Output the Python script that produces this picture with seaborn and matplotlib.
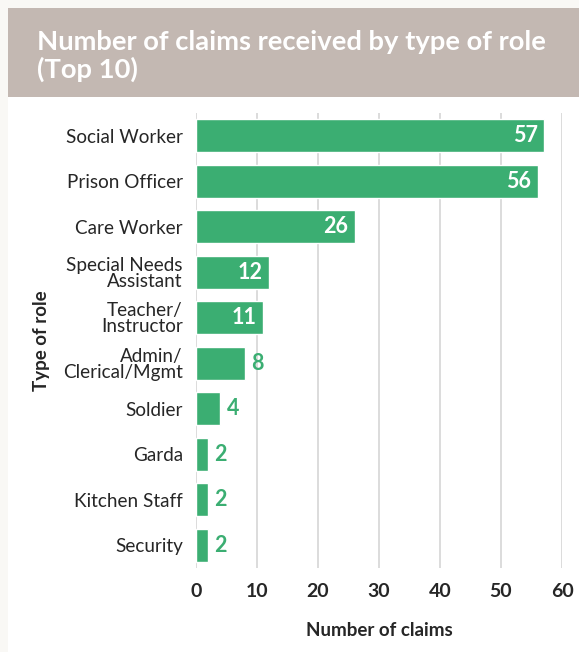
import matplotlib
matplotlib.use("Agg")
import matplotlib.pyplot as plt
import seaborn as sns
import pandas as pd
from matplotlib.patches import Rectangle

roles = ["Social Worker", "Prison Officer", "Care Worker", "Special Needs\nAssistant",
         "Teacher/\nInstructor", "Admin/\nClerical/Mgmt", "Soldier", "Garda",
         "Kitchen Staff", "Security"]
claims = [57, 56, 26, 12, 11, 8, 4, 2, 2, 2]
x_ticks = [0, 10, 20, 30, 40, 50, 60]

title = "Number of claims received by type of role\n(Top 10)"
x_label = "Number of claims"
y_label = "Type of role"

GREEN = "#3bae72"
TEXT = "#262626"
BAND = "#c3b8b2"
PAGE = "#f9f8f5"

sns.set_theme(style="white")
plt.rcParams["font.family"] = ["Lato", "DejaVu Sans"]

df = pd.DataFrame({"role": roles, "claims": claims})

fig = plt.figure(figsize=(5.79, 6.52), dpi=100)
fig.patch.set_facecolor(PAGE)

# white card and title band
fig.patches.append(Rectangle((8 / 579, 0), 1 - 8 / 579, 1 - 8 / 652,
                             transform=fig.transFigure, facecolor="white",
                             edgecolor="none", zorder=-2))
fig.patches.append(Rectangle((8 / 579, 1 - 97 / 652), 1 - 8 / 579, 89 / 652,
                             transform=fig.transFigure, facecolor=BAND,
                             edgecolor="none", zorder=-1))
fig.text(37 / 579, 1 - 56 / 652, title, color="white", fontsize=19.7,
         fontweight="bold", ha="left", va="center", linespacing=1.15)

ax = fig.add_axes([196 / 579, 1 - 568 / 652, (562 - 196) / 579, (568 - 113) / 652])
ax.set_zorder(2)
ax.set_facecolor("white")
sns.barplot(data=df, x="claims", y="role", color=GREEN, saturation=1,
            width=0.72, ax=ax, zorder=3)

ax.set_xlim(0, 60)
ax.set_xticks(x_ticks)
ax.set_xticklabels([str(t) for t in x_ticks], fontsize=14, fontweight="bold",
                   color=TEXT)
ax.tick_params(axis="x", length=0, pad=11)
ax.tick_params(axis="y", length=0, pad=9.5, labelsize=13.6, labelcolor=TEXT)
for lbl in ax.get_yticklabels():
    lbl.set_linespacing(0.92)
ax.grid(axis="x", color="#d9d9d9", linewidth=1.3, zorder=0)
ax.grid(axis="y", visible=False)
for s in ax.spines.values():
    s.set_visible(False)

ax.set_xlabel(x_label, fontsize=13.5, fontweight="bold", color=TEXT, labelpad=16)
ax.set_ylabel(y_label, fontsize=13.5, fontweight="bold", color=TEXT, labelpad=9)

for bar, v in zip(ax.patches, claims):
    yc = bar.get_y() + bar.get_height() / 2
    w = bar.get_width()
    if v >= 10:
        ax.text(w - 1.0, yc, str(v), color="white", fontsize=15.5, fontweight="bold",
                ha="right", va="center", zorder=4)
    else:
        ax.text(w + 1.0, yc, str(v), color=GREEN, fontsize=15.5, fontweight="bold",
                ha="left", va="center", zorder=4)

fig.savefig("out.png", dpi=100, facecolor=fig.get_facecolor())
